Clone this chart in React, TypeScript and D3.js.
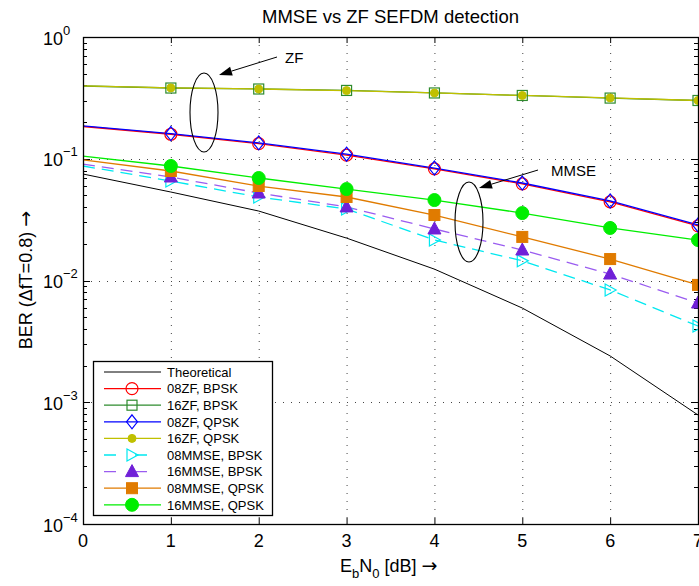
import React from "react";
import * as d3 from "d3";

const snr = [0, 1, 2, 3, 4, 5, 6, 7];
const theoretical = [0.0749, 0.0533, 0.0372, 0.0223, 0.0124, 0.00594, 0.0024, 0.000786];
const zf08bpsk = [0.184, 0.159, 0.133, 0.107, 0.0826, 0.0622, 0.0443, 0.0281];
const zf16bpsk = [0.396, 0.381, 0.374, 0.364, 0.347, 0.331, 0.315, 0.301];
const zf08qpsk = [0.186, 0.161, 0.135, 0.109, 0.0839, 0.0632, 0.045, 0.0286];
const zf16qpsk = [0.397, 0.382, 0.374, 0.363, 0.347, 0.331, 0.316, 0.301];
const mmse08bpsk = [0.0872, 0.0656, 0.0485, 0.0387, 0.0215, 0.0145, 0.00836, 0.00423];
const mmse16bpsk = [0.0905, 0.0708, 0.0523, 0.0402, 0.0265, 0.0178, 0.0113, 0.00653];
const mmse08qpsk = [0.0977, 0.0793, 0.0597, 0.0485, 0.0345, 0.0228, 0.015, 0.0092];
const mmse16qpsk = [0.105, 0.0872, 0.0695, 0.0564, 0.0458, 0.0358, 0.027, 0.0215];

const xTicks = [0, 1, 2, 3, 4, 5, 6, 7];
const yExps = [0, -1, -2, -3, -4];

type Marker = "none" | "circle" | "square" | "diamond" | "dot" | "tri-right" | "tri-up" | "fsquare" | "fcircle";

const series: { name: string; data: number[]; color: string; dash?: string; marker: Marker; mcolor?: string }[] = [
  { name: "Theoretical", data: theoretical, color: "#000000", marker: "none" },
  { name: "08ZF, BPSK", data: zf08bpsk, color: "#ff0000", marker: "circle" },
  { name: "16ZF, BPSK", data: zf16bpsk, color: "#2e8b2e", marker: "square" },
  { name: "08ZF, QPSK", data: zf08qpsk, color: "#0000ff", marker: "diamond" },
  { name: "16ZF, QPSK", data: zf16qpsk, color: "#c0c000", marker: "dot" },
  { name: "08MMSE, BPSK", data: mmse08bpsk, color: "#00e8f0", dash: "12,7", marker: "tri-right" },
  { name: "16MMSE, BPSK", data: mmse16bpsk, color: "#9a5cf0", dash: "12,7", marker: "tri-up", mcolor: "#7020d8" },
  { name: "08MMSE, QPSK", data: mmse08qpsk, color: "#e07b00", marker: "fsquare" },
  { name: "16MMSE, QPSK", data: mmse16qpsk, color: "#00ee00", marker: "fcircle" },
];

const FONT = "'Liberation Sans', Arial, Helvetica, sans-serif";
const ARROW_FONT = "'DejaVu Sans', sans-serif";

function MarkerShape({ kind, x, y, color }: { kind: Marker; x: number; y: number; color: string }) {
  switch (kind) {
    case "circle":
      return <circle cx={x} cy={y} r={6} fill="none" stroke={color} strokeWidth={1.2} />;
    case "square":
      return <rect x={x - 5} y={y - 5} width={10} height={10} fill="none" stroke={color} strokeWidth={1.2} />;
    case "diamond":
      return <path d={`M${x},${y - 7}L${x + 5.5},${y}L${x},${y + 7}L${x - 5.5},${y}Z`} fill="none" stroke={color} strokeWidth={1.2} />;
    case "dot":
      return <circle cx={x} cy={y} r={4} fill={color} stroke={color} />;
    case "tri-right":
      return <path d={`M${x + 6},${y}L${x - 5},${y - 6}L${x - 5},${y + 6}Z`} fill="none" stroke={color} strokeWidth={1.2} />;
    case "tri-up":
      return <path d={`M${x},${y - 7}L${x + 6.5},${y + 5}L${x - 6.5},${y + 5}Z`} fill={color} stroke={color} />;
    case "fsquare":
      return <rect x={x - 5.5} y={y - 5.5} width={11} height={11} fill={color} stroke={color} />;
    case "fcircle":
      return <circle cx={x} cy={y} r={6.5} fill={color} stroke={color} />;
    default:
      return null;
  }
}

export default function App() {
  const W = 699, H = 586;
  const left = 83, right = 698, top = 37, bottom = 524;
  const x = d3.scaleLinear().domain([0, 7]).range([left, right]);
  const y = d3.scaleLog().domain([1e-4, 1]).range([bottom, top]);
  const line = d3.line<number>().x((_, i) => x(snr[i])).y((d) => y(d));

  const minor: number[] = [];
  for (let e = -4; e < 0; e++) for (let k = 2; k <= 9; k++) minor.push(k * Math.pow(10, e));

  const legX = 93, legY = 361, legW = 179, legH = 154;
  const rowH = 16.6;

  const arrow = (x1: number, y1: number, x2: number, y2: number) => {
    const ang = Math.atan2(y2 - y1, x2 - x1);
    const L = 13, Wd = 4.5;
    const bx = x2 - L * Math.cos(ang), by = y2 - L * Math.sin(ang);
    const px = -Math.sin(ang) * Wd, py = Math.cos(ang) * Wd;
    return (
      <g>
        <line x1={x1} y1={y1} x2={bx} y2={by} stroke="#000" strokeWidth={1} />
        <path d={`M${x2},${y2}L${bx + px},${by + py}L${bx - px},${by - py}Z`} fill="#000" />
      </g>
    );
  };

  return (
    <svg width={W} height={H} style={{ position: "absolute", left: 0, top: 0, background: "#fff" }} fontFamily={FONT}>
      <rect x={0} y={0} width={W} height={H} fill="#fff" />
      {/* grid */}
      <g stroke="#444" strokeWidth={1} strokeDasharray="1,7">
        {xTicks.slice(1, 7).map((t) => (
          <line key={"gx" + t} x1={x(t) + 0.5} x2={x(t) + 0.5} y1={top} y2={bottom} />
        ))}
        {yExps.slice(1, 4).map((e) => (
          <line key={"gy" + e} x1={left} x2={right} y1={Math.round(y(Math.pow(10, e))) + 0.5} y2={Math.round(y(Math.pow(10, e))) + 0.5} />
        ))}
      </g>
      {/* ticks */}
      <g stroke="#000" strokeWidth={1}>
        {xTicks.map((t) => (
          <g key={"tx" + t}>
            <line x1={x(t) + 0.5} x2={x(t) + 0.5} y1={bottom} y2={bottom - 6} />
            <line x1={x(t) + 0.5} x2={x(t) + 0.5} y1={top} y2={top + 6} />
          </g>
        ))}
        {yExps.map((e) => {
          const yy = Math.round(y(Math.pow(10, e))) + 0.5;
          return (
            <g key={"ty" + e}>
              <line x1={left} x2={left + 7} y1={yy} y2={yy} />
              <line x1={right} x2={right - 7} y1={yy} y2={yy} />
            </g>
          );
        })}
        {minor.map((m, i) => {
          const yy = Math.round(y(m)) + 0.5;
          return (
            <g key={"mn" + i}>
              <line x1={left} x2={left + 4} y1={yy} y2={yy} />
              <line x1={right} x2={right - 4} y1={yy} y2={yy} />
            </g>
          );
        })}
      </g>
      {/* data lines */}
      {series.map((s) => (
        <path key={"l" + s.name} d={line(s.data) || ""} fill="none" stroke={s.color} strokeWidth={s.marker === "none" ? 1 : 1.3} strokeDasharray={s.dash} />
      ))}
      {series.map((s) =>
        s.data.map((v, i) =>
          i === 0 ? null : <MarkerShape key={s.name + i} kind={s.marker} x={x(snr[i])} y={y(v)} color={s.mcolor || s.color} />
        )
      )}
      {/* axes box */}
      <rect x={left + 0.5} y={top + 0.5} width={right - left} height={bottom - top} fill="none" stroke="#000" strokeWidth={1.3} />
      {/* tick labels */}
      <g fontSize={18} fill="#000">
        {xTicks.map((t) => (
          <text key={"xl" + t} x={x(t)} y={547} textAnchor="middle">{t}</text>
        ))}
        {yExps.map((e) => {
          const yy = y(Math.pow(10, e));
          return (
            <text key={"yl" + e} x={43} y={yy + 7.5}>
              10
              <tspan fontSize={13} dy={-10}>{e === 0 ? "0" : "\u2212" + Math.abs(e)}</tspan>
            </text>
          );
        })}
      </g>
      {/* title & axis labels */}
      <text x={(left + right) / 2} y={23} textAnchor="middle" fontSize={18.5}>MMSE vs ZF SEFDM detection</text>
      <text transform={`translate(32,280) rotate(-90)`} textAnchor="middle" fontSize={18}>
        BER (ΔfT=0.8) <tspan fontFamily={ARROW_FONT} fontSize={19}>→</tspan>
      </text>
      <text x={340} y={572} fontSize={18}>
        E<tspan fontSize={13} dy={6}>b</tspan><tspan dy={-6}>N</tspan><tspan fontSize={13} dy={6}>0</tspan><tspan dy={-6}> [dB] </tspan>
        <tspan fontFamily={ARROW_FONT} fontSize={19}>→</tspan>
      </text>
      {/* annotations */}
      <ellipse cx={204} cy={112.5} rx={14} ry={39.5} fill="none" stroke="#000" strokeWidth={1.1} />
      {arrow(277, 57, 219, 75)}
      <text x={285} y={63} fontSize={15}>ZF</text>
      <ellipse cx={469} cy={222} rx={14} ry={40} fill="none" stroke="#000" strokeWidth={1.1} />
      {arrow(538, 170, 479, 188)}
      <text x={551} y={176} fontSize={15}>MMSE</text>
      {/* legend */}
      <rect x={legX + 0.5} y={legY + 0.5} width={legW} height={legH} fill="#fff" stroke="#000" strokeWidth={1.3} />
      {series.map((s, i) => {
        const yy = legY + 11 + i * rowH;
        return (
          <g key={"lg" + s.name}>
            <line x1={104} x2={161} y1={yy} y2={yy} stroke={s.color} strokeWidth={s.marker === "none" ? 1 : 1.3} strokeDasharray={s.dash ? "12,19" : undefined} />
            <MarkerShape kind={s.marker} x={132} y={yy} color={s.mcolor || s.color} />
            <text x={167} y={yy + 4.7} fontSize={13}>{s.name}</text>
          </g>
        );
      })}
    </svg>
  );
}
